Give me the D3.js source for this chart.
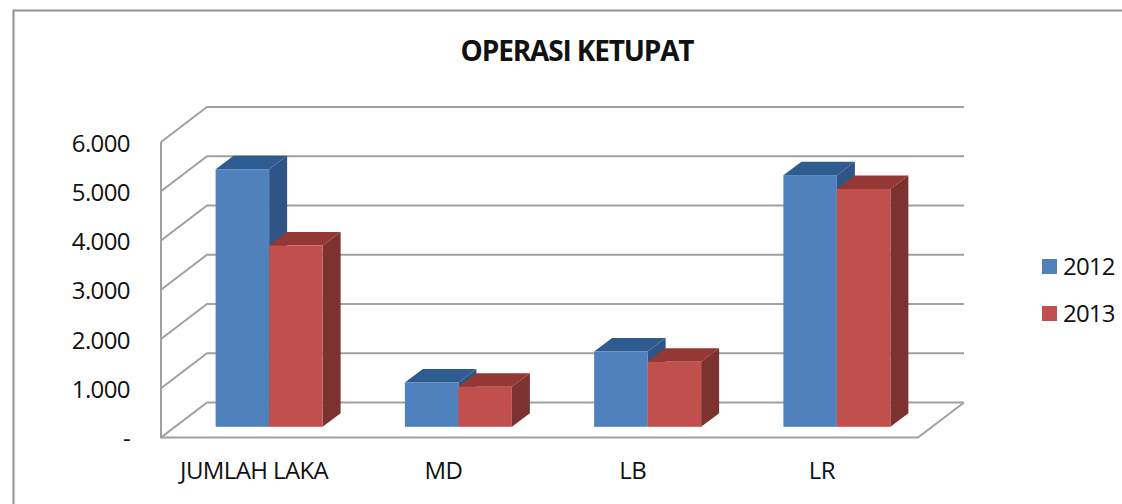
<!DOCTYPE html>
<html><head><meta charset="utf-8">
<script src="https://cdn.jsdelivr.net/npm/d3@7/dist/d3.min.js"></script>
<style>html,body{margin:0;padding:0;background:#fff}svg{display:block}text{font-family:"Open Sans",sans-serif;fill:#111}</style>
</head><body><svg id="c" width="1122" height="504"></svg>
<script>
const title = "OPERASI KETUPAT";
const categories = ["JUMLAH LAKA","MD","LB","LR"];
const seriesNames = ["2012","2013"];
const values2012 = [5230,900,1530,5110];
const values2013 = [3680,815,1320,4830];
const yTicks = [0,1000,2000,3000,4000,5000,6000];
const yTickLabels = ["-","1.000","2.000","3.000","4.000","5.000","6.000"];
const seriesColors = [{front:"#4f81bd",top:"#2f5b91",side:"#2f5585"},{front:"#c0504d",top:"#953735",side:"#7b302e"}];

const svg = d3.select("#c");
const defs = svg.append("defs");
defs.append("filter").attr("id","soft").append("feGaussianBlur").attr("stdDeviation",0.45);

// frame
svg.append("path").attr("d","M13.5,504V10.5H1122").attr("fill","none").attr("stroke","#929292").attr("stroke-width",2);

const x0 = 161, x1 = 918, yBase = 437.5, yTop = 142;
const depth = {dx:46, dy:-35};
const y = d3.scaleLinear().domain([0,6000]).range([yBase,yTop]);
const x = d3.scaleBand().domain(categories).range([x0,x1]);
const barOffset = {dx:13.5, dy:-10.7};
const barDepth = {dx:18, dy:-13.5};
const barW = 53.5;

const wall = svg.append("g").attr("filter","url(#soft)").attr("fill","none").attr("stroke","#a0a0a0").attr("stroke-width",2);
wall.selectAll("path.g").data(yTicks).join("path").attr("class","g")
  .attr("d",d=>`M${x0},${y(d)}L${x0+depth.dx},${y(d)+depth.dy}H${x1+depth.dx}`);
wall.append("path").attr("d",`M${x0},${y(6000)}V${y(0)}H${x1}L${x1+depth.dx},${y(0)+depth.dy}`);

const rows = [];
categories.forEach((c,i)=>{ [values2012,values2013].forEach((vals,s)=>rows.push({c,s,v:vals[i]})); });
const bars = svg.append("g").attr("filter","url(#soft)");
const gy = d=>y(d)+barOffset.dy;
const left = r => x(r.c)+barOffset.dx+(x.bandwidth()-2*barW)/2+r.s*barW;
rows.forEach(r=>{
  const l=left(r), rr=l+barW, t=gy(r.v), b=gy(0), dx=barDepth.dx, dy=barDepth.dy, col=seriesColors[r.s];
  const g=bars.append("g");
  g.append("path").attr("fill",col.side).attr("d",`M${rr},${t}L${rr+dx},${t+dy}V${b+dy}L${rr},${b}Z`);
  g.append("path").attr("fill",col.top).attr("d",`M${l},${t}L${l+dx},${t+dy}H${rr+dx}L${rr},${t}Z`);
  g.append("rect").attr("fill",col.front).attr("x",l).attr("y",t).attr("width",barW).attr("height",b-t);
});

// text
svg.append("text").attr("x",577).attr("y",61).attr("text-anchor","middle").attr("font-size",28).attr("font-weight",700).attr("letter-spacing",-1.15).text(title);

const yAxis = d3.axisLeft(y).tickValues(yTicks).tickSize(0).tickPadding(0).tickFormat((d,i)=>yTickLabels[i]);
const ya = svg.append("g").attr("transform","translate(130,1.5)").call(yAxis);
ya.select(".domain").remove();
ya.selectAll("text").attr("font-size",24).attr("letter-spacing",-0.6).style("font-family",'"Open Sans",sans-serif').style("fill","#111");

const xAxis = d3.axisBottom(x).tickSize(0).tickPadding(0);
const xa = svg.append("g").attr("transform","translate(-1.5,462)").call(xAxis);
xa.select(".domain").remove();
xa.selectAll("text").attr("font-size",24).attr("letter-spacing",-0.6).style("font-family",'"Open Sans",sans-serif').style("fill","#111");

const lg = svg.append("g").selectAll("g").data(seriesNames).join("g").attr("transform",(d,i)=>`translate(1042,${259+i*47})`);
lg.append("rect").attr("width",15).attr("height",15).attr("fill",(d,i)=>seriesColors[i].front);
lg.append("text").attr("x",21).attr("y",15.5).attr("font-size",24).attr("letter-spacing",-0.8).text(d=>d);
</script></body></html>
